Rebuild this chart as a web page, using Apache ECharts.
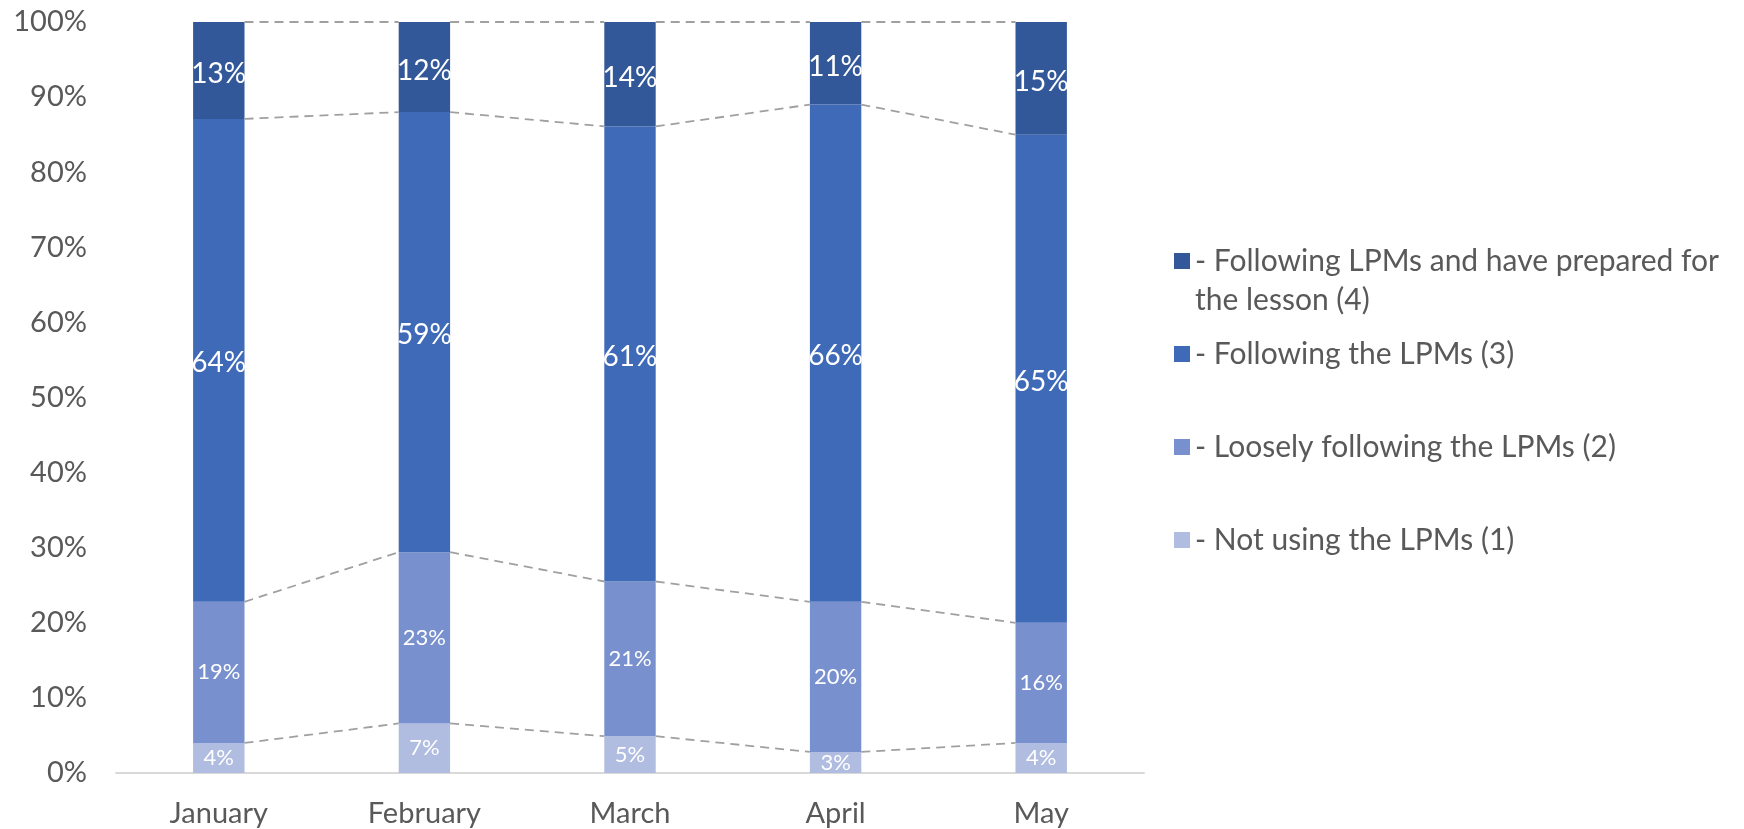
<!DOCTYPE html>
<html>
<head>
<meta charset="utf-8">
<script src="https://cdn.jsdelivr.net/npm/echarts@6/dist/echarts.min.js"></script>
<style>
html,body{margin:0;padding:0;background:#fff;}
#chart{width:1744px;height:829px;}
</style>
</head>
<body>
<div id="chart"></div>
<script>
// ---- data ----
const categories = ['January', 'February', 'March', 'April', 'May'];
const seriesNames = [
  '- Following LPMs and have prepared for\nthe lesson (4)',
  '- Following the LPMs (3)',
  '- Loosely following the LPMs (2)',
  '- Not using the LPMs (1)'
];
const notUsing = [4.0, 6.6, 4.9, 2.8, 4.0];          // (1)
const loosely = [18.8, 22.8, 20.6, 20.0, 16.0];      // (2)
const following = [64.3, 58.6, 60.6, 66.2, 65.0];    // (3)
const prepared = [12.9, 12.0, 13.9, 11.0, 15.0];     // (4)
const yTicks = [0, 10, 20, 30, 40, 50, 60, 70, 80, 90, 100];

// ---- styles ----
const colors = {
  prepared: '#335899',
  following: '#3F6AB8',
  loosely: '#7990CE',
  notUsing: '#B0BCE0'
};
const FONT = 'Lato';
const textColor = '#595959';

// series lines data: [catIndex, cumulative at i, cumulative at i+1]
const stacks = [notUsing, loosely, following, prepared];
const lineData = [];
for (let i = 0; i < categories.length - 1; i++) {
  let c0 = 0, c1 = 0;
  for (let s = 0; s < stacks.length; s++) {
    c0 += stacks[s][i];
    c1 += stacks[s][i + 1];
    lineData.push([i, c0, c1]);
  }
}

function barSeries(name, data, color, fontSize, dy) {
  return {
    name: name,
    type: 'bar',
    stack: 'total',
    barWidth: '25%',
    data: data,
    itemStyle: { color: color },
    label: {
      show: true,
      position: 'inside',
      color: '#ffffff',
      fontFamily: FONT,
      fontSize: fontSize,
      offset: [0, dy],
      formatter: p => Math.round(p.value) + '%'
    },
    emphasis: { disabled: true }
  };
}

const L = 39; // legend line height
function legendFor(name, centerY, twoLine) {
  return {
    show: true,
    data: [name],
    formatter: n => (twoLine ? '\n' + n : n),
    left: 1174,
    top: twoLine ? centerY - 1.5 * L : centerY - L / 2,
    padding: 0,
    itemWidth: 16,
    itemHeight: 16,
    icon: 'rect',
    selectedMode: false,
    textStyle: {
      fontFamily: FONT,
      fontSize: 30,
      color: textColor,
      lineHeight: L
    }
  };
}

const chart = echarts.init(document.getElementById('chart'));
chart.setOption({
  animation: false,
  backgroundColor: '#ffffff',
  grid: { left: 116, right: 600, top: 22, bottom: 56, containLabel: false },
  legend: [
    legendFor(seriesNames[0], 261, true),
    legendFor(seriesNames[1], 354, false),
    legendFor(seriesNames[2], 447, false),
    legendFor(seriesNames[3], 540, false)
  ],
  xAxis: {
    type: 'category',
    data: categories,
    axisTick: { show: false },
    axisLine: { show: true, lineStyle: { color: '#d9d9d9', width: 2 } },
    axisLabel: { color: textColor, fontFamily: FONT, fontSize: 29, margin: 26 }
  },
  yAxis: {
    type: 'value',
    min: yTicks[0],
    max: yTicks[yTicks.length - 1],
    interval: yTicks[1] - yTicks[0],
    splitLine: { show: false },
    axisLine: { show: false },
    axisTick: { show: false },
    axisLabel: { color: textColor, fontFamily: FONT, fontSize: 29, margin: 29, formatter: '{value}%' }
  },
  series: [
    barSeries(seriesNames[3], notUsing, colors.notUsing, 22, 0),
    barSeries(seriesNames[2], loosely, colors.loosely, 22, 0),
    barSeries(seriesNames[1], following, colors.following, 28, 3),
    barSeries(seriesNames[0], prepared, colors.prepared, 28, 4),
    {
      type: 'custom',
      name: 'seriesLines',
      silent: true,
      data: lineData,
      encode: { x: 0, y: 1 },
      renderItem: function (params, api) {
        const i = api.value(0);
        const p0 = api.coord([i, api.value(1)]);
        const p1 = api.coord([i + 1, api.value(2)]);
        const band = api.size([1, 0])[0];
        const half = band * 0.25 / 2;
        return {
          type: 'line',
          shape: { x1: p0[0] + half, y1: p0[1], x2: p1[0] - half, y2: p1[1] },
          style: { stroke: '#a0a0a0', lineWidth: 1.8, lineDash: [9, 6], fill: null }
        };
      },
      z: 5
    }
  ]
});
</script>
</body>
</html>
